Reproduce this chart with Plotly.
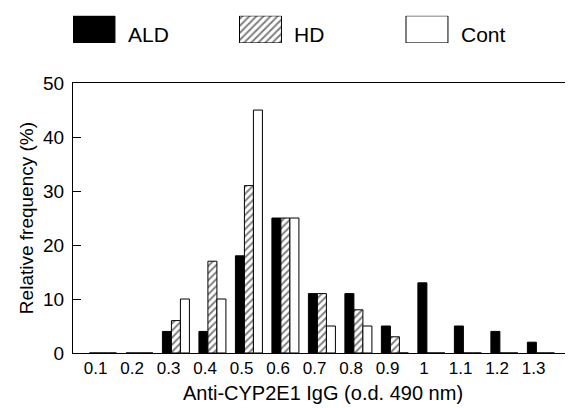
import plotly.graph_objects as go

categories = ["0.1", "0.2", "0.3", "0.4", "0.5", "0.6", "0.7", "0.8", "0.9", "1", "1.1", "1.2", "1.3"]
ald = [0, 0, 4, 4, 18, 25, 11, 11, 5, 13, 5, 4, 2]
hd = [0, 0, 6, 17, 31, 25, 11, 8, 3, 0, 0, 0, 0]
cont = [0, 0, 10, 10, 45, 25, 5, 5, 0, 0, 0, 0, 0]
series_names = ["ALD", "HD", "Cont"]
y_ticks = [0, 10, 20, 30, 40, 50]

FONT = "Liberation Sans, Arial, Helvetica, sans-serif"
idx = list(range(len(categories)))

styles = [
    dict(color="black", line=dict(color="black", width=1)),
    dict(color="white", line=dict(color="black", width=1),
         pattern=dict(shape="/", fgcolor="black", bgcolor="white", size=5, solidity=0.4)),
    dict(color="white", line=dict(color="black", width=1)),
]

fig = go.Figure()
for name, vals, st in zip(series_names, [ald, hd, cont], styles):
    fig.add_trace(go.Bar(x=idx, y=vals, name=name, marker=st, showlegend=False,
                         xaxis="x", yaxis="y"))

# legend keys drawn as bars on an auxiliary axis
for i, (name, st) in enumerate(zip(series_names, styles)):
    fig.add_trace(go.Bar(x=[i], y=[1], marker=st, width=0.252, showlegend=False,
                         xaxis="x2", yaxis="y2", hoverinfo="skip"))
    fig.add_annotation(x=i + 0.126, y=0.5, xref="x2", yref="y2", text=name,
                       showarrow=False, xanchor="left", yanchor="middle", xshift=11, yshift=-5,
                       font=dict(size=21, color="black", family=FONT))

fig.update_layout(
    width=565, height=400,
    margin=dict(l=65, r=0, t=2, b=55, autoexpand=False),
    paper_bgcolor="white", plot_bgcolor="white",
    barmode="group", bargap=0.26, bargroupgap=0,
    font=dict(family=FONT, color="black", size=16),
    xaxis=dict(
        range=[-0.82, 12.88], tickmode="array",
        tickvals=[i - 0.2 for i in idx], ticktext=categories,
        showline=True, linecolor="black", linewidth=1, mirror=True,
        ticks="", showgrid=False, zeroline=False, automargin=False,
        tickfont=dict(size=17), ticklabelstandoff=0,
        title=dict(text="Anti-CYP2E1 IgG (o.d. 490 nm)", font=dict(size=20), standoff=8),
    ),
    yaxis=dict(
        domain=[0, 0.787], range=[0, 50], tickvals=y_ticks,
        showline=True, linecolor="black", linewidth=1,
        ticks="inside", ticklen=8, tickcolor="black", automargin=False,
        showgrid=False, zeroline=False, tickfont=dict(size=19), ticklabelstandoff=4,
        title=dict(text="Relative frequency (%)", font=dict(size=19), standoff=4),
    ),
    xaxis2=dict(domain=[0, 1], range=[-0.126, 2.877], visible=False, anchor="y2"),
    yaxis2=dict(domain=[0.904, 0.983], range=[0, 1], visible=False, anchor="x2"),
)

fig.write_html("out.html")
